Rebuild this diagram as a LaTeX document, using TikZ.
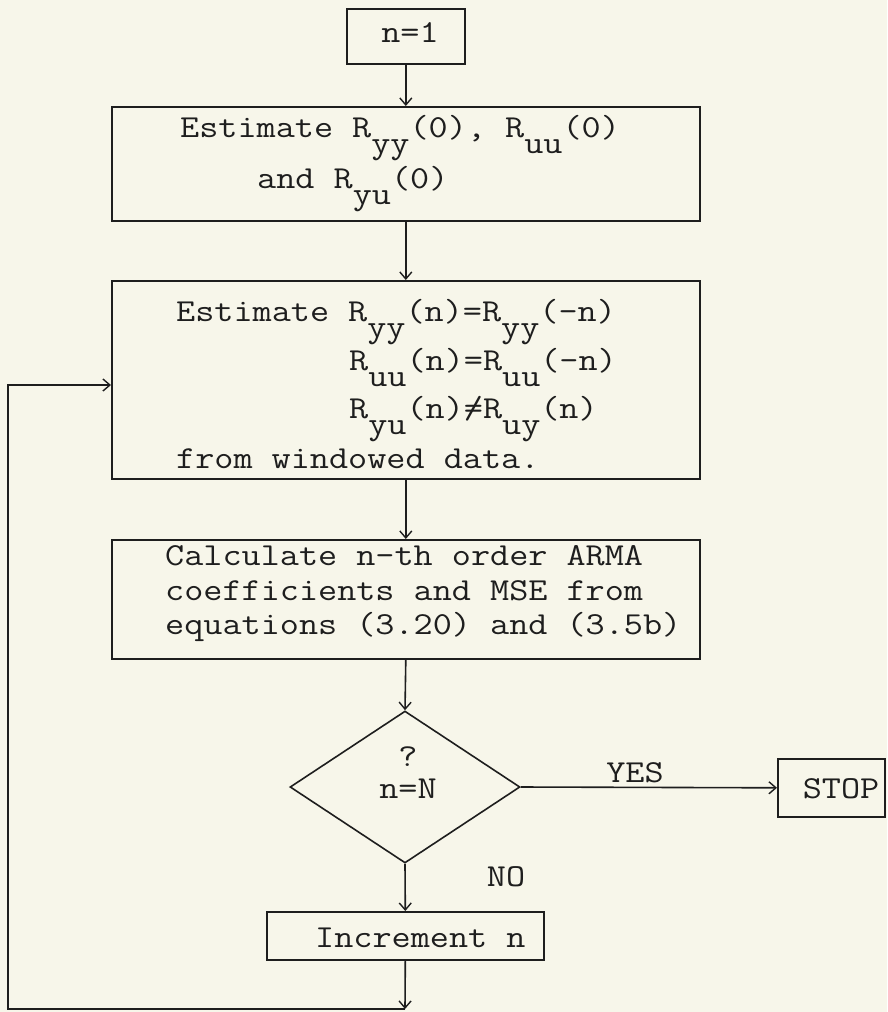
\documentclass[tikz,border=0pt]{standalone}
\usepackage{fontspec}
\setmonofont{Latin Modern Mono}[FakeStretch=1.16]
\usetikzlibrary{arrows.meta,shapes.geometric}
\definecolor{paper}{RGB}{247,246,234}
\definecolor{ink}{RGB}{30,30,30}
\newcommand\sbx[1]{\raisebox{-16pt}{#1}}
\newcommand\tneq{\rlap{=}/}
\begin{document}
\begin{tikzpicture}[x=1pt,y=-1pt,
  every node/.style={font=\fontsize{32}{38}\selectfont\ttfamily, text=ink},
  boxshape/.style={draw=ink, line width=1.6pt, rectangle, inner sep=0pt, anchor=north west},
  txt/.style={anchor=base west, inner sep=0pt},
  ctxt/.style={anchor=base, inner sep=0pt},
  flow/.style={draw=ink, line width=1.6pt, -{Straight Barb[length=7pt,width=12pt,line width=1.4pt]}}]
\fill[paper] (0,0) rectangle (887,1012);
\useasboundingbox (0,0) rectangle (887,1012);
% boxes
\node[boxshape, minimum width=118pt, minimum height=55pt] (start) at (346,8) {};
\node[boxshape, minimum width=588pt, minimum height=114pt] (est0) at (111,106) {};
\node[boxshape, minimum width=588pt, minimum height=198pt] (estn) at (111,280) {};
\node[boxshape, minimum width=588pt, minimum height=119pt] (calc) at (111,539) {};
\node[draw=ink, line width=1.6pt, diamond, inner sep=0pt, minimum width=230pt, minimum height=152pt] (dec) at (405,787) {};
\node[boxshape, minimum width=107pt, minimum height=58pt] (stop) at (777,758) {};
\node[boxshape, minimum width=277pt, minimum height=48pt] (inc) at (266,911) {};
% texts
\node[ctxt] (tstart) at (410,42) {n=1};
\node[txt] (t21) at (180,137) {Estimate R\sbx{yy}(0), R\sbx{uu}(0)};
\node[txt] (t22) at (257,188) {and R\sbx{yu}(0)};
\node[txt] (t31) at (176,321) {Estimate R\sbx{yy}(n)=R\sbx{yy}(-n)};
\node[txt] (t32) at (349,370) {R\sbx{uu}(n)=R\sbx{uu}(-n)};
\node[txt] (t33) at (349,418) {R\sbx{yu}(n)\tneq R\sbx{uy}(n)};
\node[txt] (t34) at (176,468) {from windowed data.};
\node[txt] (t41) at (165,565) {Calculate n-th order ARMA};
\node[txt] (t42) at (165,600) {coefficients and MSE from};
\node[txt] (t43) at (165,634) {equations (3.20) and (3.5b)};
\node[ctxt] (tq) at (408,766) {?};
\node[ctxt] (tn) at (408,798) {n=N};
\node[ctxt] (tstop) at (841,798) {STOP};
\node[txt] (tinc) at (315,947) {Increment n};
\node[ctxt] (yes) at (635,782) {YES};
\node[ctxt] (no) at (506,886) {NO};
% connectors
\coordinate (lb) at (405,1009);
\coordinate (ll) at (8,1009);
\coordinate (lin) at (111,385);
\draw[flow] (start.south) -- (est0.north);
\draw[flow] (est0.south) -- (estn.north);
\draw[flow] (estn.south) -- (calc.north);
\draw[flow] (calc.south) -- (dec.north);
\draw[flow] (dec.east) -- (stop.west);
\draw[flow] (dec.south) -- (inc.north);
\draw[flow] (inc.south) -- (lb);
\draw[flow] (lb) -- (ll) |- (lin);
\end{tikzpicture}
\end{document}
